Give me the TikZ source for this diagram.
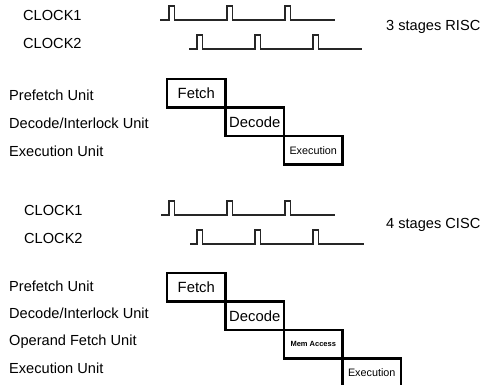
\documentclass[tikz,border=0pt]{standalone}
\usepackage{fontspec}
\setmainfont{Liberation Sans}
\usetikzlibrary{positioning}

\newcommand{\clockwave}[4]{% baseline y, start x, first pulse x, end x
    \draw[wave] (#2,#1) foreach \k in {0,1,2} {-- ({#3+58*\k},#1) -- ++(0,-14) -- ++(5.5,0) -- ++(0,14)} -- (#4,#1);
}

\begin{document}
\begin{tikzpicture}[
    x=1pt, y=-1pt,
    unitlabel/.style={anchor=base west, inner sep=0pt, font=\fontsize{14.6}{16}\selectfont},
    stagebox/.style={rectangle, draw=black, line width=2.2pt, inner sep=0pt, outer sep=0pt, minimum width=58.5pt, minimum height=28.5pt, font=\fontsize{14.8}{16}\selectfont},
    smallstage/.style={stagebox, font=\fontsize{10.8}{12}\selectfont},
    tinystage/.style={stagebox, font=\bfseries\fontsize{7.5}{9}\selectfont},
    wave/.style={line width=1.1pt, draw=black!85}
]
    \useasboundingbox (0,0) rectangle (486,384);
    \clip (0,0) rectangle (486,384);

    % 3 stages RISC
    \node[unitlabel] (riscClkA) at (23,20) {CLOCK1};
    \node[unitlabel] (riscClkB) at (23,48) {CLOCK2};
    \node[unitlabel] (riscTitle) at (386,30) {3 stages RISC};
    \clockwave{20}{160}{169}{335}
    \clockwave{49}{189}{197}{362}

    \node[unitlabel] (riscPre) at (9,100) {Prefetch Unit};
    \node[unitlabel] (riscDec) at (9,128) {Decode/Interlock Unit};
    \node[unitlabel] (riscExe) at (9,156) {Execution Unit};

    \node[stagebox, anchor=north west] (riscFetch) at (167,79) {Fetch};
    \node[stagebox] (riscDecode) [below right=0pt and 0pt of riscFetch] {Decode};
    \node[smallstage] (riscExec) [below right=0pt and 0pt of riscDecode] {Execution};

    % 4 stages CISC
    \node[unitlabel] (ciscClkA) at (24,215) {CLOCK1};
    \node[unitlabel] (ciscClkB) at (24,243) {CLOCK2};
    \node[unitlabel] (ciscTitle) at (386,228) {4 stages CISC};
    \clockwave{215}{161}{169}{335}
    \clockwave{244}{190}{197}{364}

    \node[unitlabel] (ciscPre) at (9,291) {Prefetch Unit};
    \node[unitlabel] (ciscDec) at (9,318) {Decode/Interlock Unit};
    \node[unitlabel] (ciscOpf) at (9,345) {Operand Fetch Unit};
    \node[unitlabel] (ciscExe) at (9,373) {Execution Unit};

    \node[stagebox, anchor=north west] (ciscFetch) at (167,273) {Fetch};
    \node[stagebox] (ciscDecode) [below right=0pt and 0pt of ciscFetch] {Decode};
    \node[tinystage] (ciscMem) [below right=0pt and 0pt of ciscDecode] {Mem Access};
    \node[smallstage] (ciscExec) [below right=0pt and 0pt of ciscMem] {Execution};
\end{tikzpicture}
\end{document}
